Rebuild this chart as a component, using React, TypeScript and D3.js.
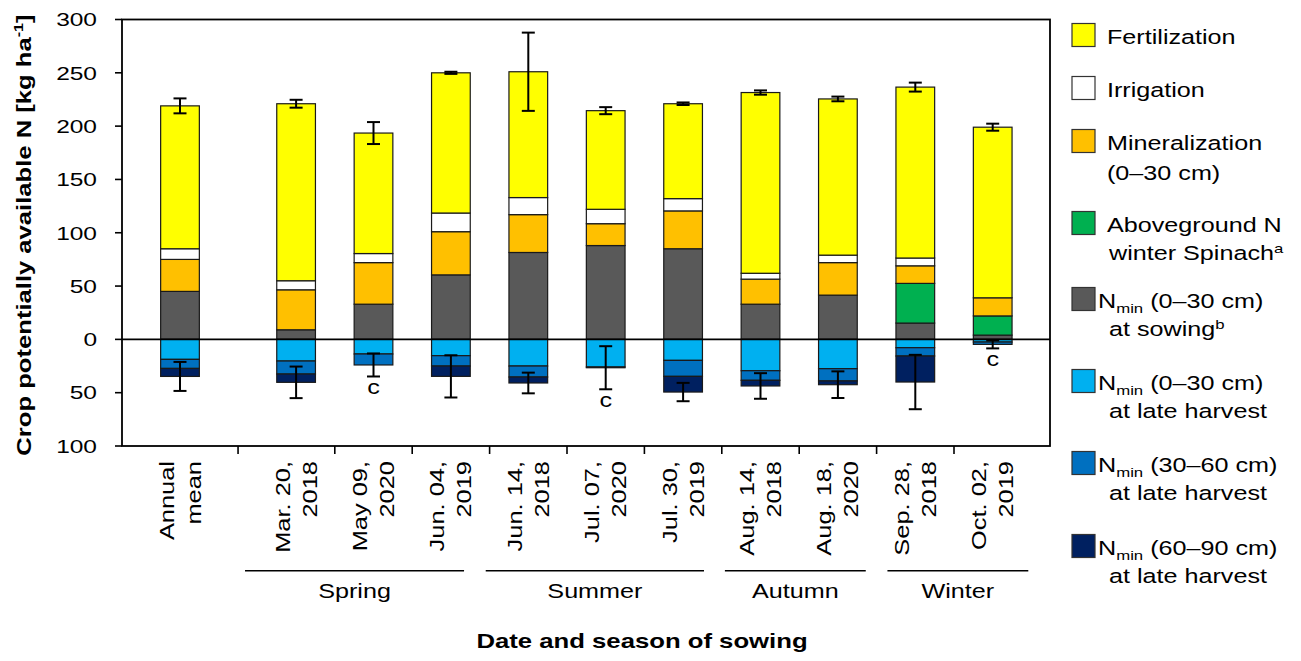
import React from "react";
import * as d3 from "d3";

// ---------- data ----------
const labelLine1 = ["Annual", "Mar. 20,", "May 09,", "Jun. 04,", "Jun. 14,", "Jul. 07,", "Jul. 30,", "Aug. 14,", "Aug. 18,", "Sep. 28,", "Oct. 02,"];
const labelLine2 = ["mean", "2018", "2020", "2019", "2018", "2020", "2019", "2018", "2020", "2018", "2019"];

// positive stack (bottom -> top)
const nminSowing = [45, 9, 33, 60.5, 81.5, 88, 85, 33, 41.5, 15.3, 4];
const abovegroundN = [0, 0, 0, 0, 0, 0, 0, 0, 0, 37.2, 18];
const mineralization = [30, 37.5, 39, 40.5, 35.5, 20.5, 35.5, 23.5, 30.5, 16.5, 17];
const irrigation = [10, 8.5, 8.5, 17.5, 16, 13.5, 11.5, 5.5, 7, 7.3, 0];
const fertilization = [134, 166, 113, 131.5, 118, 92.5, 89, 169.5, 146.5, 160.3, 160];
const totalErr = [7, 3.7, 10.3, 1, 36.7, 3.3, 1.2, 2, 2.2, 4.2, 3.3];

// negative stack (top -> bottom)
const harvest0030 = [18.75, 20.3, 13.7, 15.3, 25, 25.9, 19.7, 29.4, 27.5, 7.8, 2.5];
const harvest3060 = [8.5, 12.2, 10.3, 9.7, 10.3, 0.7, 15, 9, 11.5, 7.8, 2.2];
const harvest6090 = [7.5, 7.8, 0, 9.7, 5.6, 0, 14.7, 5.3, 3.5, 24.4, 0];
const harvestErr = [13.6, 14.8, 10.8, 19.8, 9.7, 20.2, 8.6, 12, 12.5, 25.5, 3.75];
const letters = ["", "", "c", "", "", "c", "", "", "", "", "c"];

const yTicks = [-100, -50, 0, 50, 100, 150, 200, 250, 300];

const seasons = ["Spring", "Summer", "Autumn", "Winter"];
const seasonStart = [0.84, 3.95, 7.04, 9.14];
const seasonEnd = [3.67, 6.77, 8.86, 10.96];

const COLORS = {
  fert: "#FFFF00",
  irr: "#FFFFFF",
  min: "#FFC000",
  green: "#00B050",
  sow: "#595959",
  h1: "#00B0F0",
  h2: "#0070C0",
  h3: "#002060",
};

const FONT = "'Liberation Sans', Arial, Helvetica, sans-serif";
const FS = 19.5;
const SX = 1.29;

function HText({ x, y, anchor = "start", size = FS, bold = false, sx = SX, children }: any) {
  return (
    <text
      transform={`translate(${x},${y}) scale(${sx},1)`}
      textAnchor={anchor}
      fontSize={size}
      fontWeight={bold ? "bold" : "normal"}
      fontFamily={FONT}
      fill="#000"
    >
      {children}
    </text>
  );
}

function VText({ x, y, anchor = "end", size = 20.5, bold = false, sx = 1.24, children }: any) {
  return (
    <text
      transform={`translate(${x},${y}) rotate(-90) scale(${sx},1)`}
      textAnchor={anchor}
      fontSize={size}
      fontWeight={bold ? "bold" : "normal"}
      fontFamily={FONT}
      fill="#000"
    >
      {children}
    </text>
  );
}

function Nmin({ range }: { range: string }) {
  return (
    <>
      N
      <tspan fontSize={13} dy={5}>min</tspan>
      <tspan dy={-5}>{` (${range})`}</tspan>
    </>
  );
}

export default function App() {
  const W = 1301;
  const H = 661;
  const left = 122;
  const right = 1050;

  const slot = (i: number) => (i === 0 ? 0 : i + 0.5);
  const x = d3.scaleLinear().domain([0, 10.5]).range([180, 992.7]);
  const y = d3.scaleLinear().domain([-100, 300]).range([446, 19.5]);
  const barW = (x(1) - x(0)) * 0.5;
  const capW = 6.5;

  const n = fertilization.length;
  const posSeries = [
    { v: nminSowing, c: COLORS.sow },
    { v: abovegroundN, c: COLORS.green },
    { v: mineralization, c: COLORS.min },
    { v: irrigation, c: COLORS.irr },
    { v: fertilization, c: COLORS.fert },
  ];
  const negSeries = [
    { v: harvest0030, c: COLORS.h1 },
    { v: harvest3060, c: COLORS.h2 },
    { v: harvest6090, c: COLORS.h3 },
  ];

  const bars: any[] = [];
  const errs: any[] = [];
  for (let i = 0; i < n; i++) {
    const cx = x(slot(i));
    let cum = 0;
    posSeries.forEach((s, k) => {
      const v = s.v[i];
      if (v > 0) {
        bars.push(
          <rect key={`p${i}-${k}`} x={cx - barW / 2} y={y(cum + v)} width={barW} height={y(cum) - y(cum + v)}
            fill={s.c} stroke="#1a1a1a" strokeWidth={1.2} />
        );
      }
      cum += v;
    });
    const top = cum;
    let neg = 0;
    negSeries.forEach((s, k) => {
      const v = s.v[i];
      if (v > 0) {
        bars.push(
          <rect key={`n${i}-${k}`} x={cx - barW / 2} y={y(-neg)} width={barW} height={y(-neg - v) - y(-neg)}
            fill={s.c} stroke="#1a1a1a" strokeWidth={1.2} />
        );
      }
      neg += v;
    });
    const bottom = -neg;
    // error bars
    [[top, totalErr[i]], [bottom, harvestErr[i]]].forEach(([c, e], k) => {
      errs.push(
        <g key={`e${i}-${k}`} stroke="#000" strokeWidth={2}>
          <line x1={cx} x2={cx} y1={y(c + e)} y2={y(c - e)} />
          <line x1={cx - capW} x2={cx + capW} y1={y(c + e)} y2={y(c + e)} />
          <line x1={cx - capW} x2={cx + capW} y1={y(c - e)} y2={y(c - e)} />
        </g>
      );
    });
    if (letters[i]) {
      errs.push(
        <HText key={`l${i}`} x={cx} y={y(bottom - harvestErr[i]) + 18} anchor="middle">{letters[i]}</HText>
      );
    }
  }

  const xTicks: number[] = [];
  for (let i = 0; i < n - 1; i++) xTicks.push((slot(i) + slot(i + 1)) / 2);

  const legendBase = [44, 97, 150, 232, 308, 390, 472, 555];
  const legendColors = [COLORS.fert, COLORS.irr, COLORS.min, COLORS.green, COLORS.sow, COLORS.h1, COLORS.h2, COLORS.h3];
  const L2 = 28;
  const tx = 1107;
  const tx2 = 1109;
  const nx = 1098;

  return (
    <svg width={W} height={H} style={{ position: "absolute", left: 0, top: 0, background: "#fff" }}>
      <rect x={0} y={0} width={W} height={H} fill="#fff" />
      {/* bars */}
      {bars}
      {/* zero line */}
      <line x1={left} x2={right} y1={y(0)} y2={y(0)} stroke="#000" strokeWidth={1.6} />
      {/* frame */}
      <rect x={left} y={y(300)} width={right - left} height={y(-100) - y(300)} fill="none" stroke="#000" strokeWidth={1.8} />
      {errs}
      {/* y ticks */}
      {yTicks.map((t) => (
        <g key={t}>
          <line x1={left - 7} x2={left} y1={y(t)} y2={y(t)} stroke="#000" strokeWidth={1.6} />
          <HText x={97} y={y(t) + 6.8} anchor="end" size={19}>{Math.abs(t)}</HText>
        </g>
      ))}
      {/* x ticks */}
      {xTicks.map((t, i) => (
        <line key={i} x1={x(t)} x2={x(t)} y1={y(-100)} y2={y(-100) + 8} stroke="#000" strokeWidth={1.6} />
      ))}
      {/* x labels */}
      {labelLine1.map((l, i) => {
        const cx = x(slot(i));
        return (
          <g key={i}>
            <VText x={cx - 6.5} y={461}>{l}</VText>
            <VText x={cx + 20.5} y={461}>{labelLine2[i]}</VText>
          </g>
        );
      })}
      {/* seasons */}
      {seasons.map((s, i) => {
        const a = x(seasonStart[i]);
        const b = x(seasonEnd[i]);
        return (
          <g key={s}>
            <line x1={a} x2={b} y1={570.7} y2={570.7} stroke="#000" strokeWidth={1.5} />
            <HText x={(a + b) / 2} y={598} anchor="middle">{s}</HText>
          </g>
        );
      })}
      {/* axis titles */}
      <VText x={31} y={235} anchor="middle" bold size={20.5} sx={1.25}>
        Crop potentially available N [kg ha
        <tspan fontSize={13} dy={-8}>-1</tspan>
        <tspan dy={8}>]</tspan>
      </VText>
      <HText x={642} y={648} anchor="middle" bold size={20} sx={1.285}>Date and season of sowing</HText>

      {/* legend */}
      {legendColors.map((c, i) => (
        <rect key={i} x={1072} y={legendBase[i] - 20.5} width={23} height={23} fill={c} stroke="#333" strokeWidth={1.2} />
      ))}
      <HText x={tx} y={legendBase[0]}>Fertilization</HText>
      <HText x={tx} y={legendBase[1]}>Irrigation</HText>
      <HText x={tx} y={legendBase[2]}>Mineralization</HText>
      <HText x={tx} y={legendBase[2] + L2 + 2}>(0–30 cm)</HText>
      <HText x={tx} y={legendBase[3]}>Aboveground N</HText>
      <HText x={tx2} y={legendBase[3] + L2}>
        winter Spinach<tspan fontSize={13} dy={-7}>a</tspan>
      </HText>
      <HText x={nx} y={legendBase[4]}><Nmin range="0–30 cm" /></HText>
      <HText x={tx2} y={legendBase[4] + L2}>
        at sowing<tspan fontSize={13} dy={-7}>b</tspan>
      </HText>
      <HText x={nx} y={legendBase[5]}><Nmin range="0–30 cm" /></HText>
      <HText x={tx2} y={legendBase[5] + L2}>at late harvest</HText>
      <HText x={nx} y={legendBase[6]}><Nmin range="30–60 cm" /></HText>
      <HText x={tx2} y={legendBase[6] + L2}>at late harvest</HText>
      <HText x={nx} y={legendBase[7]}><Nmin range="60–90 cm" /></HText>
      <HText x={tx2} y={legendBase[7] + L2}>at late harvest</HText>
    </svg>
  );
}
